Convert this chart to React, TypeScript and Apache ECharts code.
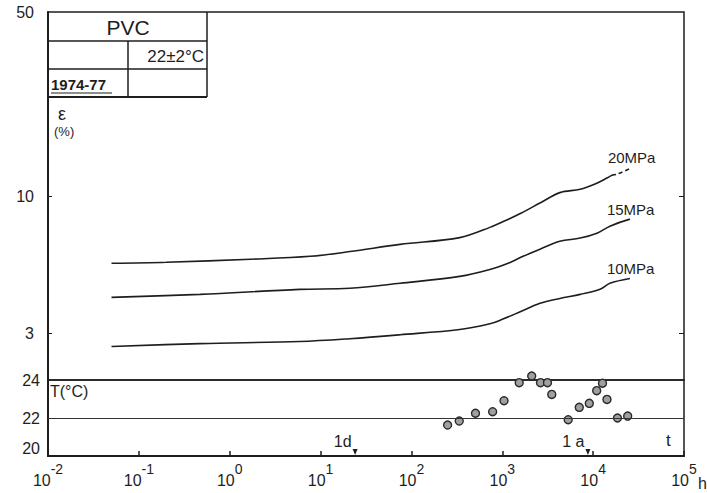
import React, { useEffect, useRef } from 'react';
import * as echarts from 'echarts';

// ---- data (hours, strain %) ----
const t20 = [0.05, 0.2, 1.7, 7.7, 21, 75, 340, 730, 1200, 1600, 2600, 4300, 7200, 10500, 14200, 16100];
const e20 = [5.55, 5.6, 5.75, 5.9, 6.15, 6.55, 6.95, 7.6, 8.2, 8.6, 9.4, 10.3, 10.6, 11.1, 11.7, 12.0];
const t20ext = [16100, 18300, 25400];
const e20ext = [12.0, 12.1, 12.7];
const t15 = [0.05, 0.47, 5.9, 21, 75, 340, 730, 1200, 1600, 2600, 4300, 7200, 11000, 15300, 25400];
const e15 = [4.12, 4.23, 4.42, 4.46, 4.66, 4.95, 5.26, 5.58, 5.85, 6.28, 6.73, 6.92, 7.22, 7.68, 8.17];
const t10 = [0.05, 0.47, 5.9, 21, 75, 340, 730, 1000, 1600, 2600, 4300, 7200, 11900, 15300, 25400];
const e10 = [2.68, 2.75, 2.8, 2.87, 2.97, 3.11, 3.27, 3.4, 3.64, 3.91, 4.08, 4.23, 4.42, 4.66, 4.86];

// temperature record (hours, °C)
const tempHours = [250, 336, 507, 783, 1045, 1535, 2108, 2633, 3142, 3506, 5313, 7035, 9072, 10940, 12670, 14200, 18530, 23990];
const tempC = [21.63, 21.84, 22.25, 22.33, 22.91, 23.86, 24.21, 23.86, 23.86, 23.24, 21.91, 22.56, 22.77, 23.44, 23.83, 22.98, 22.0, 22.1];

// time markers
const markerHours = [24, 8760];
const markerLabels = ['1d', '1 a'];

// tick values
const xTicks = [0.01, 0.1, 1, 10, 100, 1000, 10000, 100000];
const strainTicks = [3, 10];
const strainLabels = [3, 10, 50];
const stressLabels = ['20MPa', '15MPa', '10MPa'];

const FONT = '"Liberation Sans", Arial, sans-serif';
const INK = '#1e1e1e';

const zip = (a: number[], b: number[]) => a.map((v, i) => [v, b[i]]);

export default function App() {
  const ref = useRef<HTMLDivElement>(null);
  useEffect(() => {
    if (!ref.current) return;
    const chart = echarts.init(ref.current, null, { renderer: 'svg' });
    const lineStyle = { color: INK, width: 1.6 };
    const endLabel = (txt: string, off: number[]) => ({
      show: true,
      formatter: txt,
      offset: off,
      color: INK,
      fontFamily: FONT,
      fontSize: 15,
    });
    chart.setOption({
      animation: false,
      backgroundColor: '#ffffff',
      textStyle: { fontFamily: FONT, color: INK },
      grid: [
        { left: 48, right: 23, top: 12, height: 368, show: true, borderColor: INK, borderWidth: 1.5 },
        { left: 48, right: 23, top: 380, height: 76, show: true, borderColor: INK, borderWidth: 1.5 },
      ],
      xAxis: [
        { gridIndex: 0, type: 'log', min: 0.01, max: 100000, show: false },
        {
          gridIndex: 1,
          type: 'log',
          min: 0.01,
          max: 100000,
          axisLine: { show: true, lineStyle: { color: INK, width: 2 } },
          axisTick: { show: true, inside: true, length: 5, customValues: xTicks, lineStyle: { color: INK, width: 1.5 } },
          splitLine: { show: false },
          minorTick: { show: false },
          axisLabel: {
            customValues: xTicks,
            showMinLabel: true,
            showMaxLabel: true,
            margin: 6,
            formatter: (v: number) => `{b|10}{s|${Math.round(Math.log10(v))}}`,
            rich: {
              b: { fontSize: 16, lineHeight: 26, verticalAlign: 'bottom', fontFamily: FONT, color: INK },
              s: { fontSize: 14, lineHeight: 26, verticalAlign: 'top', fontFamily: FONT, color: INK },
            },
          },
        },
      ],
      yAxis: [
        {
          gridIndex: 0,
          type: 'log',
          min: 2,
          max: 50,
          axisLine: { show: true, lineStyle: { color: INK, width: 2 } },
          axisTick: { show: true, inside: true, length: 4, customValues: strainTicks, lineStyle: { color: INK } },
          splitLine: { show: false },
          minorTick: { show: false },
          axisLabel: {
            customValues: strainLabels,
            margin: 14,
            fontSize: 16,
            color: INK,
            fontFamily: FONT,
          },
        },
        {
          gridIndex: 0,
          type: 'log',
          min: 2,
          max: 50,
          position: 'right',
          axisLine: { show: false },
          axisTick: { show: true, inside: true, length: 5, customValues: strainTicks, lineStyle: { color: INK } },
          splitLine: { show: false },
          axisLabel: { show: false },
        },
        {
          gridIndex: 1,
          type: 'value',
          min: 20,
          max: 24,
          interval: 2,
          axisLine: { show: true, lineStyle: { color: INK, width: 2 } },
          axisTick: { show: false },
          splitLine: { show: false },
          axisLabel: {
            margin: 8,
            formatter: (v: number) => (v === 20 ? `{lo|${v}}` : `{n|${v}}`),
            rich: {
              n: { fontSize: 16, fontFamily: FONT, color: INK },
              lo: { fontSize: 16, fontFamily: FONT, color: INK, padding: [0, 0, 16, 0] },
            },
          },
        },
      ],
      series: [
        {
          type: 'line', name: '20MPa', xAxisIndex: 0, yAxisIndex: 0,
          data: zip(t20, e20), showSymbol: false, smooth: 0.35, lineStyle,
        },
        {
          type: 'line', name: '20MPa ext', xAxisIndex: 0, yAxisIndex: 0,
          data: zip(t20ext, e20ext), showSymbol: false, smooth: 0.3,
          lineStyle: { ...lineStyle, type: [4, 3] },
          endLabel: endLabel(stressLabels[0], [-30, -11]),
        },
        {
          type: 'line', name: '15MPa', xAxisIndex: 0, yAxisIndex: 0,
          data: zip(t15, e15), showSymbol: false, smooth: 0.35, lineStyle,
          endLabel: endLabel(stressLabels[1], [-31, -10]),
        },
        {
          type: 'line', name: '10MPa', xAxisIndex: 0, yAxisIndex: 0,
          data: zip(t10, e10), showSymbol: false, smooth: 0.35, lineStyle,
          endLabel: endLabel(stressLabels[2], [-31, -10]),
        },
        {
          type: 'scatter', name: 'T', xAxisIndex: 1, yAxisIndex: 2,
          data: zip(tempHours, tempC), symbol: 'circle', symbolSize: 8, clip: false,
          itemStyle: { color: '#a0a0a0', borderColor: '#2a2a2a', borderWidth: 1.4, opacity: 1 },
          markLine: {
            silent: true,
            symbol: 'none',
            label: { show: false },
            lineStyle: { color: '#333', width: 1, type: 'solid' },
            data: [{ yAxis: 22 }],
          },
        },
        {
          type: 'scatter', name: 'markers', xAxisIndex: 1, yAxisIndex: 2,
          data: markerHours.map((h, i) => ({
            value: [h, 20],
            label: { formatter: markerLabels[i] },
          })),
          symbol: 'triangle', symbolRotate: 180, symbolSize: [5, 6], symbolOffset: [0, -4], clip: false,
          itemStyle: { color: INK, opacity: 1 },
          label: {
            show: true, position: 'left', distance: 1, offset: [0, -11],
            fontSize: 16, fontFamily: FONT, color: INK, opacity: 1,
          },
        },
      ],
      graphic: [
        // table grid
        { type: 'line', shape: { x1: 48, y1: 41, x2: 207, y2: 41 }, style: { stroke: INK, lineWidth: 1.5 } },
        { type: 'line', shape: { x1: 48, y1: 69, x2: 207, y2: 69 }, style: { stroke: INK, lineWidth: 1.5 } },
        { type: 'line', shape: { x1: 48, y1: 97, x2: 207, y2: 97 }, style: { stroke: INK, lineWidth: 1.8 } },
        { type: 'line', shape: { x1: 207, y1: 12, x2: 207, y2: 97 }, style: { stroke: INK, lineWidth: 1.5 } },
        { type: 'line', shape: { x1: 128, y1: 41, x2: 128, y2: 97 }, style: { stroke: INK, lineWidth: 1.5 } },
        { type: 'text', x: 128, y: 27, style: { text: 'PVC', font: `21px ${FONT}`, fill: INK, align: 'center', verticalAlign: 'middle' } },
        { type: 'text', x: 204, y: 56, style: { text: '22±2°C', font: `17px ${FONT}`, fill: INK, align: 'right', verticalAlign: 'middle' } },
        { type: 'text', x: 51, y: 84, style: { text: '1974-77', font: `bold 15px ${FONT}`, fill: INK, align: 'left', verticalAlign: 'middle' } },
        { type: 'line', shape: { x1: 51, y1: 93, x2: 112, y2: 93 }, style: { stroke: INK, lineWidth: 1 } },
        // axis titles
        { type: 'text', x: 58, y: 114, style: { text: 'ε', font: `18px ${FONT}`, fill: INK, align: 'left', verticalAlign: 'middle' } },
        { type: 'text', x: 54, y: 131, style: { text: '(%)', font: `13px ${FONT}`, fill: INK, align: 'left', verticalAlign: 'middle' } },
        { type: 'text', x: 50, y: 391, style: { text: 'T(°C)', font: `16px ${FONT}`, fill: INK, align: 'left', verticalAlign: 'middle' } },
        { type: 'text', x: 666, y: 440, style: { text: 't', font: `17px ${FONT}`, fill: INK, align: 'left', verticalAlign: 'middle' } },
        { type: 'text', x: 698, y: 483, style: { text: 'h', font: `16px ${FONT}`, fill: INK, align: 'left', verticalAlign: 'middle' } },
      ],
    });
    return () => chart.dispose();
  }, []);
  return (
    <div
      ref={ref}
      style={{ position: 'fixed', left: 0, top: 0, width: 707, height: 493, background: '#fff' }}
    />
  );
}
